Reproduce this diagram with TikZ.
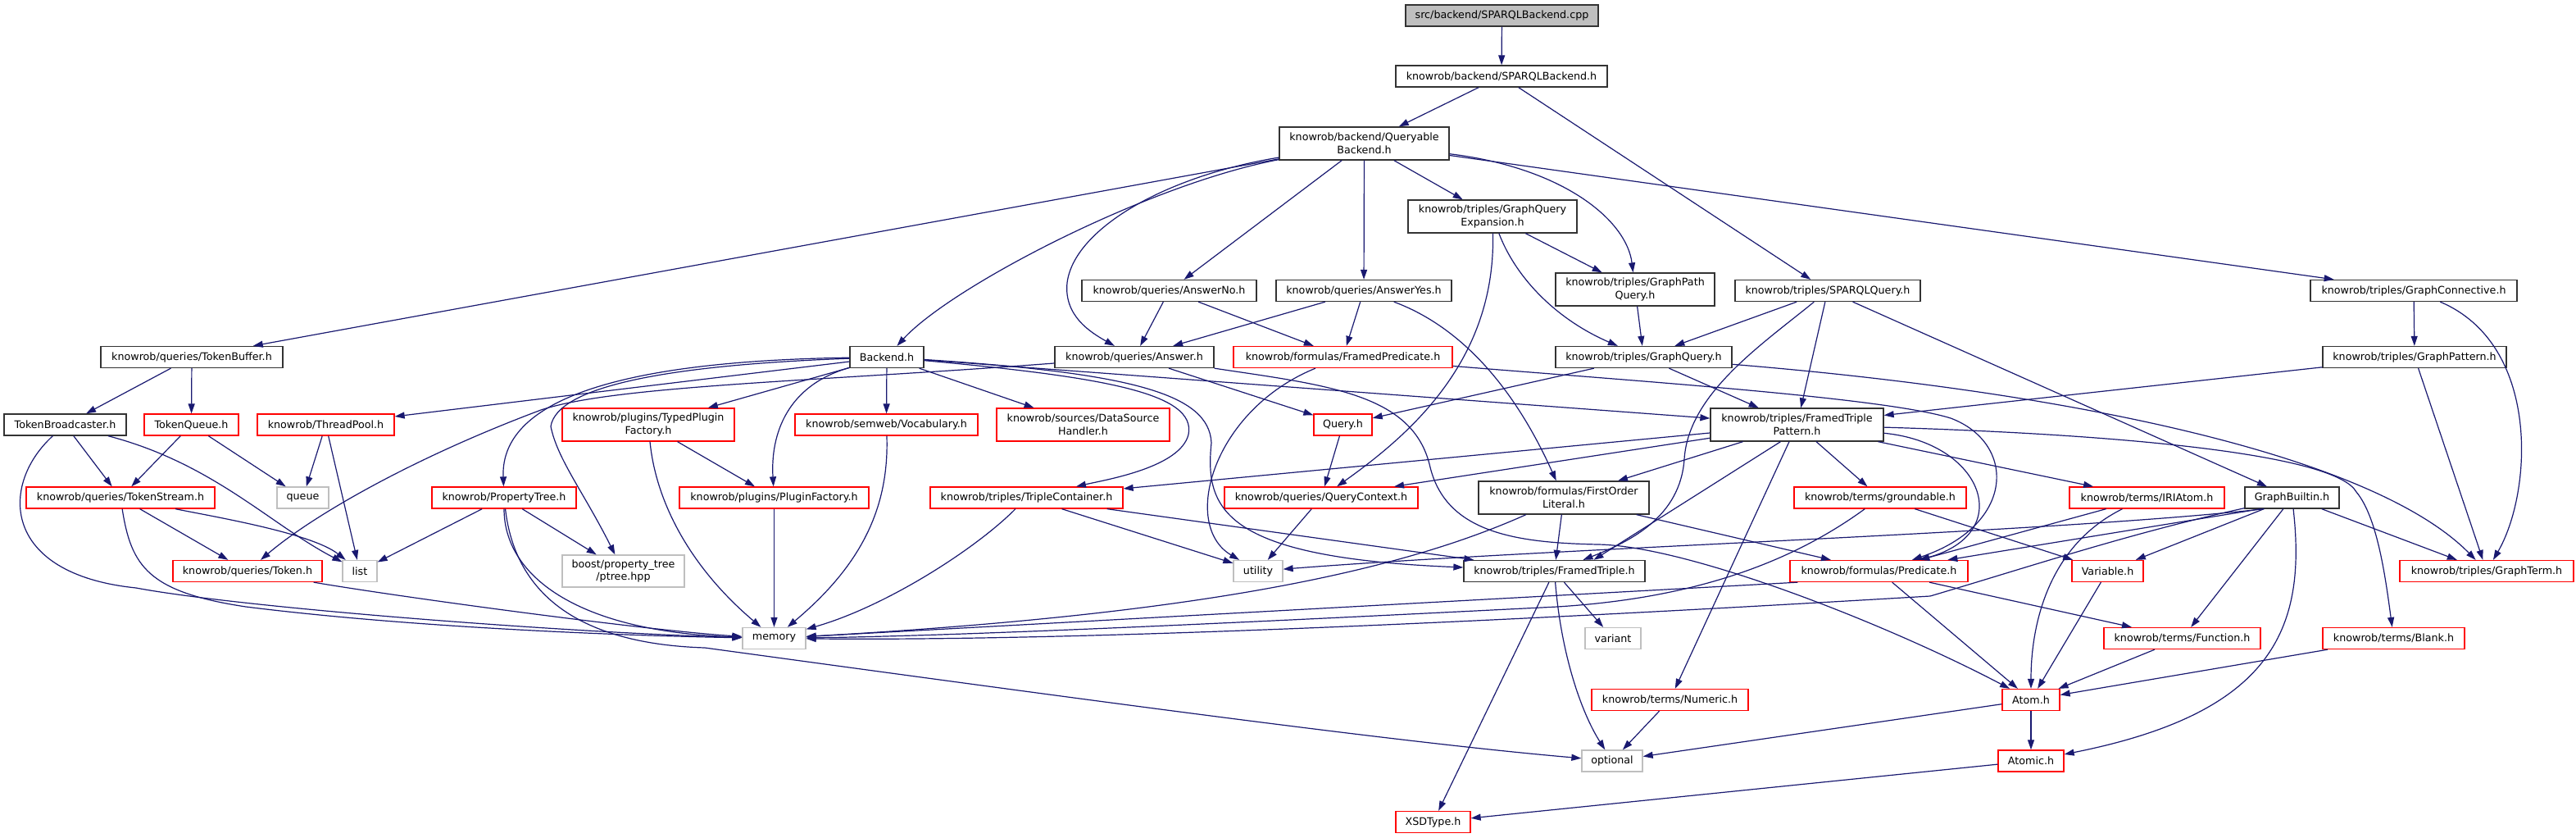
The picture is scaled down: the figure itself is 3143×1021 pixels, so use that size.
\documentclass[tikz,border=0pt]{standalone}
\usepackage{fontspec}
\setmainfont{DejaVu Sans}
\usetikzlibrary{arrows.meta}
\definecolor{edgecol}{HTML}{191970}
\definecolor{grayfill}{HTML}{BFBFBF}
\definecolor{graybd}{HTML}{BFBFBF}
\definecolor{redbd}{HTML}{FF0000}
\definecolor{blackbd}{HTML}{333333}
\begin{document}
\begin{tikzpicture}[x=1pt,y=-1pt,
  base/.style={rectangle, inner sep=0pt, line width=1.3pt, fill=white, align=center,
     font=\fontsize{12.7}{15.5}\selectfont, minimum height=26},
  bx/.style={base, draw=blackbd},
  rbx/.style={base, draw=redbd},
  gbx/.style={base, draw=graybd},
  srcbx/.style={base, draw=blackbd, fill=grayfill},
  dep/.style={draw=edgecol, line width=1.2pt, -{Triangle[length=12pt,width=8pt]}}]
\useasboundingbox (0,0) rectangle (3143,1021);
% nodes
\node[srcbx, minimum width=235] (cpp) at (1832.5,19) {src/backend/SPARQLBackend.cpp};
\node[bx, minimum width=258] (sparqlb) at (1832,93) {knowrob/backend/SPARQLBackend.h};
\node[bx, minimum width=207, minimum height=40] (queryable) at (1664.5,175) {knowrob/backend/Queryable\\Backend.h};
\node[bx, minimum width=206, minimum height=40] (expansion) at (1821,264) {knowrob/triples/GraphQuery\\Expansion.h};
\node[bx, minimum width=213] (answerno) at (1426.5,354.5) {knowrob/queries/AnswerNo.h};
\node[bx, minimum width=214] (answeryes) at (1664,354.5) {knowrob/queries/AnswerYes.h};
\node[bx, minimum width=194, minimum height=40] (graphpath) at (1995,353) {knowrob/triples/GraphPath\\Query.h};
\node[bx, minimum width=226] (sparqlq) at (2230,354.5) {knowrob/triples/SPARQLQuery.h};
\node[bx, minimum width=252] (graphconn) at (2945,354.5) {knowrob/triples/GraphConnective.h};
\node[bx, minimum width=222] (tokenbuffer) at (234,435.5) {knowrob/queries/TokenBuffer.h};
\node[bx, minimum width=90] (backend) at (1082,435.5) {Backend.h};
\node[bx, minimum width=194] (answer) at (1384,435.5) {knowrob/queries/Answer.h};
\node[rbx, minimum width=267] (framedpred) at (1638.5,435.5) {knowrob/formulas/FramedPredicate.h};
\node[bx, minimum width=215] (graphquery) at (2005.5,435.5) {knowrob/triples/GraphQuery.h};
\node[bx, minimum width=224] (graphpattern) at (2946,435.5) {knowrob/triples/GraphPattern.h};
\node[bx, minimum width=149] (tokenbroad) at (79.5,518) {TokenBroadcaster.h};
\node[rbx, minimum width=115] (tokenqueue) at (233.5,518) {TokenQueue.h};
\node[rbx, minimum width=167] (threadpool) at (397.5,518) {knowrob/ThreadPool.h};
\node[rbx, minimum width=210, minimum height=40] (typedplugin) at (791,518) {knowrob/plugins/TypedPlugin\\Factory.h};
\node[rbx, minimum width=223] (vocabulary) at (1081.5,518) {knowrob/semweb/Vocabulary.h};
\node[rbx, minimum width=211, minimum height=40] (datasource) at (1321.5,518) {knowrob/sources/DataSource\\Handler.h};
\node[rbx, minimum width=71] (query) at (1638.5,518) {Query.h};
\node[bx, minimum width=211, minimum height=40] (ftp) at (2192.5,518) {knowrob/triples/FramedTriple\\Pattern.h};
\node[rbx, minimum width=230] (tokenstream) at (147,607) {knowrob/queries/TokenStream.h};
\node[gbx, minimum width=63] (queue) at (369.5,607) {queue};
\node[rbx, minimum width=176] (propertytree) at (615,607) {knowrob/PropertyTree.h};
\node[rbx, minimum width=231] (pluginfactory) at (944.5,607) {knowrob/plugins/PluginFactory.h};
\node[rbx, minimum width=235] (triplecontainer) at (1252.5,607) {knowrob/triples/TripleContainer.h};
\node[rbx, minimum width=236] (querycontext) at (1612,607) {knowrob/queries/QueryContext.h};
\node[bx, minimum width=208, minimum height=40] (fol) at (1908,607) {knowrob/formulas/FirstOrder\\Literal.h};
\node[rbx, minimum width=210] (groundable) at (2294,607) {knowrob/terms/groundable.h};
\node[rbx, minimum width=189] (iriatom) at (2619.5,607) {knowrob/terms/IRIAtom.h};
\node[bx, minimum width=115] (graphbuiltin) at (2796.5,607) {GraphBuiltin.h};
\node[rbx, minimum width=182] (token) at (302,696.5) {knowrob/queries/Token.h};
\node[gbx, minimum width=42] (list) at (439,696.5) {list};
\node[gbx, minimum width=149, minimum height=39] (boost) at (760.5,696.5) {boost/property\_tree\\/ptree.hpp};
\node[gbx, minimum width=60] (utility) at (1535,696.5) {utility};
\node[bx, minimum width=221] (framedtriple) at (1896.5,696.5) {knowrob/triples/FramedTriple.h};
\node[rbx, minimum width=217] (predicate) at (2292.5,696.5) {knowrob/formulas/Predicate.h};
\node[rbx, minimum width=87] (variable) at (2571.5,696.5) {Variable.h};
\node[rbx, minimum width=212] (graphterm) at (3034,696.5) {knowrob/triples/GraphTerm.h};
\node[gbx, minimum width=77] (memory) at (944.5,778.5) {memory};
\node[gbx, minimum width=68] (variant) at (1968,778.5) {variant};
\node[rbx, minimum width=191] (function) at (2662.5,778.5) {knowrob/terms/Function.h};
\node[rbx, minimum width=173] (blank) at (2920.5,778.5) {knowrob/terms/Blank.h};
\node[rbx, minimum width=191] (numeric) at (2037.5,853.5) {knowrob/terms/Numeric.h};
\node[rbx, minimum width=70] (atom) at (2478,853.5) {Atom.h};
\node[gbx, minimum width=74] (optional) at (1967,928) {optional};
\node[rbx, minimum width=80] (atomic) at (2478,928) {Atomic.h};
\node[rbx, minimum width=91] (xsdtype) at (1748.5,1002.5) {XSDType.h};
% edges
\draw[dep] (cpp) -- (sparqlb);
\draw[dep] (sparqlb) -- (queryable);
\draw[dep] (sparqlb) -- (sparqlq);
\draw[dep] (queryable) -- (tokenbuffer);
\draw[dep] (queryable) .. controls (1400,225) and (1160,350) .. (backend);
\draw[dep] (queryable) .. controls (1420,215) and (1310,280) .. (1302,345) .. controls (1298,385) and (1330,405) .. (answer);
\draw[dep] (queryable) -- (answerno);
\draw[dep] (queryable) -- (answeryes);
\draw[dep] (queryable) -- (expansion);
\draw[dep] (queryable) .. controls (1910,205) and (1985,270) .. (graphpath);
\draw[dep] (queryable) -- (graphconn);
\draw[dep] (expansion) -- (graphpath);
\draw[dep] (expansion) .. controls (1850,340) and (1900,390) .. (graphquery);
\draw[dep] (expansion) .. controls (1825,440) and (1720,530) .. (querycontext);
\draw[dep] (graphpath) -- (graphquery);
\draw[dep] (sparqlq) -- (graphquery);
\draw[dep] (sparqlq) -- (ftp);
\draw[dep] (sparqlq) .. controls (2150,420) and (2060,480) .. (2055,560) .. controls (2050,630) and (1990,660) .. (framedtriple);
\draw[dep] (sparqlq) -- (graphbuiltin);
\draw[dep] (graphconn) -- (graphpattern);
\draw[dep] (graphconn) .. controls (3100,420) and (3090,600) .. (graphterm);
\draw[dep] (graphpattern) -- (ftp);
\draw[dep] (graphpattern) -- (graphterm);
\draw[dep] (graphquery) -- (query);
\draw[dep] (graphquery) -- (ftp);
\draw[dep] (graphquery) .. controls (2550,480) and (2900,560) .. (graphterm);
\draw[dep] (answerno) -- (answer);
\draw[dep] (answerno) -- (framedpred);
\draw[dep] (answeryes) -- (answer);
\draw[dep] (answeryes) -- (framedpred);
\draw[dep] (answeryes) .. controls (1800,405) and (1860,500) .. (fol);
\draw[dep] (answer) .. controls (1000,465) and (750,470) .. (660,500) .. controls (500,560) and (380,630) .. (token);
\draw[dep] (answer) -- (query);
\draw[dep] (answer.south east) .. controls (1620,470) and (1725,480) .. (1745,570) .. controls (1765,650) and (1850,662) .. (1950,664) .. controls (2060,666) and (2300,760) .. (atom);
\draw[dep] (framedpred) .. controls (1480,500) and (1440,640) .. (utility);
\draw[dep] (framedpred) .. controls (2000,465) and (2300,485) .. (2380,510) .. controls (2460,540) and (2460,640) .. (predicate);
\draw[dep] (backend) -- (threadpool);
\draw[dep] (backend) .. controls (780,440) and (610,480) .. (propertytree);
\draw[dep] (backend) .. controls (820,445) and (680,470) .. (672,520) .. controls (680,560) and (712,600) .. (boost);
\draw[dep] (backend) -- (typedplugin);
\draw[dep] (backend) .. controls (960,470) and (940,530) .. (pluginfactory);
\draw[dep] (backend) -- (vocabulary);
\draw[dep] (backend) -- (datasource);
\draw[dep] (backend) .. controls (1350,460) and (1460,480) .. (1450,530) .. controls (1440,570) and (1350,585) .. (triplecontainer);
\draw[dep] (backend) .. controls (1380,455) and (1475,480) .. (1478,540) .. controls (1470,620) and (1490,680) .. (framedtriple);
\draw[dep] (backend) -- (ftp);
\draw[dep] (tokenbuffer) -- (tokenbroad);
\draw[dep] (tokenbuffer) -- (tokenqueue);
\draw[dep] (tokenbroad) -- (tokenstream);
\draw[dep] (tokenbroad) .. controls (260,565) and (330,640) .. (list);
\draw[dep] (tokenbroad) .. controls (0,590) and (0,700) .. (166,717) .. controls (300,742) and (700,772) .. (memory);
\draw[dep] (tokenqueue) -- (tokenstream);
\draw[dep] (tokenqueue) -- (queue);
\draw[dep] (threadpool) -- (queue);
\draw[dep] (threadpool) -- (list);
\draw[dep] (tokenstream) -- (token);
\draw[dep] (tokenstream) .. controls (260,630) and (380,650) .. (list);
\draw[dep] (tokenstream) .. controls (160,690) and (180,722) .. (300,740) .. controls (500,765) and (750,775) .. (memory);
\draw[dep] (token) .. controls (500,730) and (800,770) .. (memory);
\draw[dep] (propertytree) -- (list);
\draw[dep] (propertytree) -- (boost);
\draw[dep] (propertytree) .. controls (615,700) and (700,770) .. (memory);
\draw[dep] (propertytree) .. controls (628,720) and (700,785) .. (860,790) .. controls (1300,850) and (1700,905) .. (optional);
\draw[dep] (typedplugin) -- (pluginfactory);
\draw[dep] (typedplugin) .. controls (800,610) and (840,690) .. (memory);
\draw[dep] (pluginfactory) -- (memory);
\draw[dep] (vocabulary) .. controls (1085,620) and (1050,690) .. (memory);
\draw[dep] (triplecontainer) .. controls (1190,670) and (1080,740) .. (memory);
\draw[dep] (triplecontainer) -- (utility);
\draw[dep] (triplecontainer) -- (framedtriple);
\draw[dep] (querycontext) -- (utility);
\draw[dep] (query) -- (querycontext);
\draw[dep] (ftp) -- (triplecontainer);
\draw[dep] (ftp) -- (querycontext);
\draw[dep] (ftp) -- (fol);
\draw[dep] ([xshift=-20]ftp.south) -- ([xshift=48]framedtriple.north);
\draw[dep] (ftp) -- (numeric);
\draw[dep] (ftp) -- (groundable);
\draw[dep] (ftp) -- (iriatom);
\draw[dep] (ftp) .. controls (2600,530) and (2850,555) .. (2875,600) .. controls (2900,630) and (2910,700) .. (blank);
\draw[dep] (ftp) .. controls (2420,540) and (2460,650) .. (predicate);
\draw[dep] (fol) .. controls (1700,700) and (1450,750) .. (memory);
\draw[dep] (fol) -- (framedtriple);
\draw[dep] (fol) -- (predicate);
\draw[dep] (groundable) .. controls (2180,690) and (2060,730) .. (1900,740) .. controls (1600,755) and (1200,775) .. (memory);
\draw[dep] (groundable) -- (variable);
\draw[dep] (iriatom) -- (predicate);
\draw[dep] ([xshift=-30]iriatom.south) .. controls (2500,665) and (2478,760) .. (atom);
\draw[dep] ([xshift=24]graphbuiltin.south west) .. controls (2500,650) and (1900,668) .. (utility);
\draw[dep] (graphbuiltin) .. controls (2600,650) and (2480,690) .. (2355,727) .. controls (1800,760) and (1300,782) .. (memory);
\draw[dep] ([xshift=20]graphbuiltin.south west) -- (predicate);
\draw[dep] (graphbuiltin) -- (variable);
\draw[dep] (graphbuiltin) -- (function);
\draw[dep] (graphbuiltin) .. controls (2815,770) and (2770,870) .. (atomic);
\draw[dep] (graphbuiltin) -- (graphterm);
\draw[dep] ([xshift=10]predicate.south west) -- (memory);
\draw[dep] (predicate) -- (atom);
\draw[dep] (predicate) -- (function);
\draw[dep] (variable) -- (atom);
\draw[dep] (function) -- (atom);
\draw[dep] (blank) -- (atom);
\draw[dep] (atom) -- (atomic);
\draw[dep] (atom) -- (optional);
\draw[dep] (atomic) -- (xsdtype);
\draw[dep] (framedtriple) -- (variant);
\draw[dep] (framedtriple) .. controls (1905,800) and (1930,870) .. (optional);
\draw[dep] (framedtriple) -- (xsdtype);
\draw[dep] (numeric) -- (optional);
\end{tikzpicture}
\end{document}
